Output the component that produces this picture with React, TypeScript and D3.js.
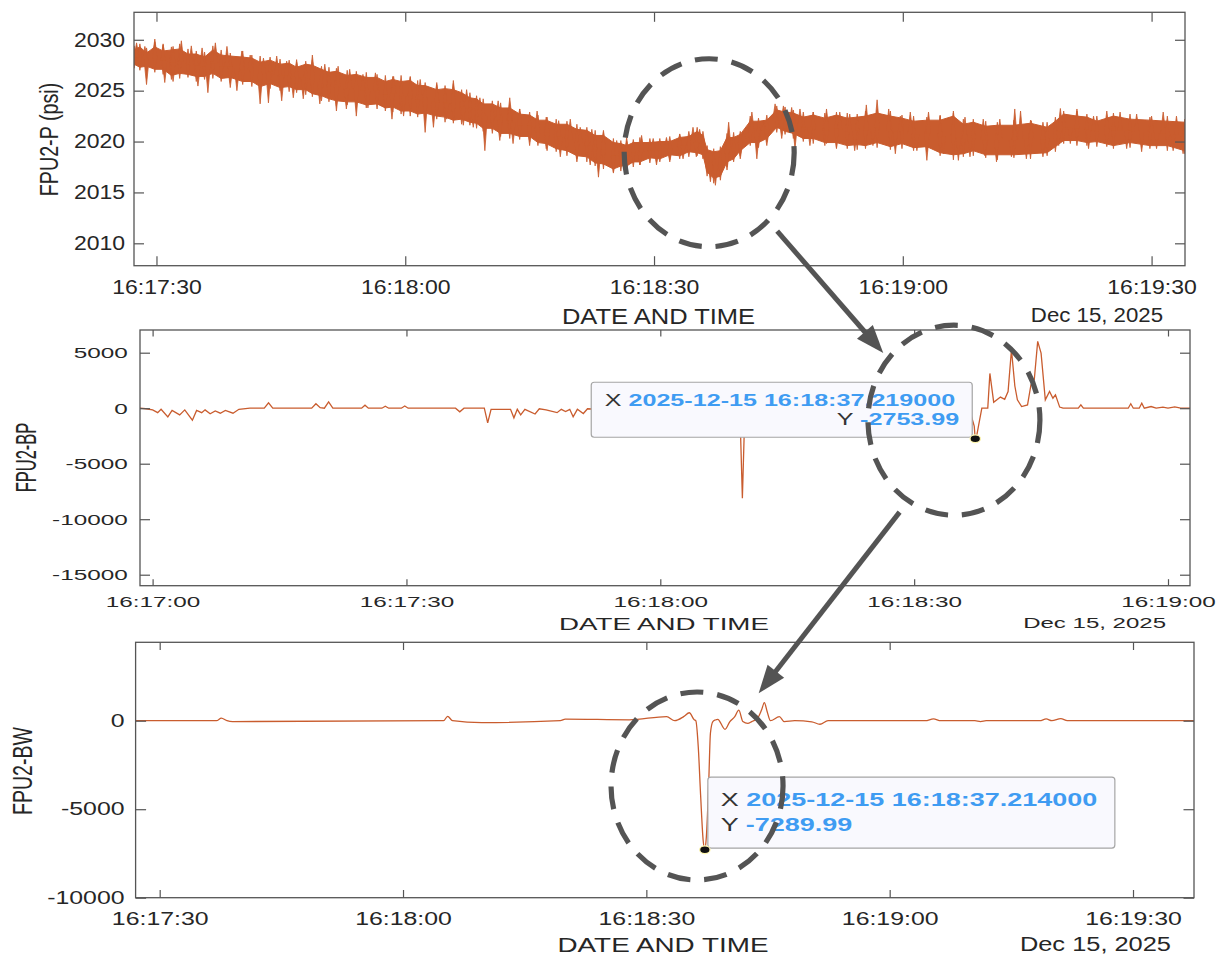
import React, { useEffect, useRef } from "react";
import * as d3 from "d3";

const W = 1224;
const H = 956;
const FONT = "'Liberation Sans', Arial, Helvetica, sans-serif";
const INK = "#262626";
const AXIS = "#555555";
const TRACE = "#c95c2e";
const TIP_BLUE = "#3f9cf2";
const MARK = "#545454";

// all times are seconds after 2025-12-15 16:17:00
const BASE = new Date(2025, 11, 15, 16, 17, 0).getTime();
const at = (s: number) => new Date(BASE + Math.round(s * 1000));

// FPU2-P (psi): upper / lower edge of the dense core of the noisy trace
const pSec = [27.3, 28.0, 28.8, 29.8, 30.8, 31.8, 32.8, 33.8, 34.8, 35.8, 36.8, 37.8, 38.9, 40.4, 41.5, 42.5, 43.7, 44.9, 46.0, 46.9,
  48.0, 48.8, 49.9, 50.8, 51.7, 53.0, 54.1, 55.3, 56.6, 57.6, 58.5, 59.5, 60.6, 61.5, 62.4, 63.8, 64.8, 65.8, 66.8, 67.8,
  68.6, 69.4, 70.5, 71.5, 72.6, 73.8, 75.0, 76.0, 77.0, 78.2, 79.5, 80.7, 81.9, 82.9, 83.9, 85.1, 86.0, 86.7, 87.5, 88.3,
  89.5, 90.7, 91.9, 93.1, 94.2, 95.2, 95.9, 96.4, 97.2, 98.0, 98.8, 99.6, 100.4, 101.6, 102.6, 103.6, 104.8, 105.8, 106.8, 108.0,
  109.2, 110.6, 112.0, 113.3, 114.5, 115.5, 116.9, 118.5, 119.9, 121.3, 122.9, 124.5, 126.1, 127.3, 128.5, 130.0, 131.4, 133.4, 135.4, 137.4,
  138.4, 139.4, 141.0, 142.2, 143.4, 145.4, 147.4, 149.8, 151.9, 154.0];
const pHi = [2029.0, 2029.3, 2028.7, 2029.3, 2028.9, 2029.0, 2029.1, 2028.6, 2028.6, 2028.3, 2029.0, 2028.5, 2028.4, 2028.3, 2028.2, 2027.8, 2028.0, 2027.6, 2027.7, 2027.3,
  2027.6, 2027.5, 2027.1, 2026.8, 2026.9, 2026.5, 2026.6, 2026.3, 2026.3, 2025.9, 2026.1, 2025.9, 2026.0, 2025.5, 2025.5, 2025.1, 2025.2, 2025.1, 2024.8, 2024.3,
  2024.2, 2023.7, 2023.7, 2023.3, 2023.3, 2022.7, 2022.6, 2022.1, 2022.1, 2021.7, 2021.7, 2021.2, 2021.1, 2020.6, 2020.6, 2019.9, 2019.8, 2019.6, 2019.9, 2019.9,
  2019.9, 2020.0, 2020.0, 2020.4, 2020.5, 2021.0, 2020.6, 2019.2, 2019.0, 2019.1, 2020.4, 2020.4, 2020.7, 2022.0, 2022.0, 2022.1, 2023.1, 2022.9, 2022.8, 2022.4,
  2022.6, 2022.3, 2022.6, 2022.3, 2022.4, 2022.5, 2022.8, 2022.5, 2022.3, 2022.0, 2022.1, 2022.1, 2022.5, 2021.7, 2021.9, 2021.5, 2021.6, 2021.6, 2021.8, 2021.4,
  2022.0, 2022.7, 2022.5, 2022.4, 2022.0, 2022.5, 2022.2, 2022.1, 2022.0, 2021.9];
const pLo = [2027.6, 2027.3, 2027.4, 2027.1, 2027.1, 2026.5, 2026.7, 2026.6, 2026.4, 2026.4, 2026.7, 2026.2, 2026.3, 2025.9, 2025.9, 2025.4, 2025.7, 2025.3, 2025.4, 2025.1,
  2025.1, 2024.7, 2024.5, 2024.2, 2024.0, 2023.9, 2023.9, 2023.6, 2023.7, 2023.3, 2023.4, 2023.0, 2023.0, 2022.7, 2022.8, 2022.5, 2022.4, 2022.1, 2022.2, 2021.9,
  2021.8, 2021.3, 2021.3, 2020.8, 2020.8, 2020.5, 2020.5, 2019.9, 2019.8, 2019.3, 2019.1, 2018.6, 2018.5, 2017.9, 2017.8, 2017.3, 2017.6, 2017.6, 2018.0, 2018.0,
  2018.4, 2018.3, 2018.7, 2018.6, 2019.0, 2018.9, 2018.7, 2017.0, 2016.4, 2016.6, 2018.0, 2018.3, 2019.1, 2019.9, 2019.9, 2020.3, 2021.4, 2021.0, 2020.8, 2020.3,
  2020.3, 2019.9, 2019.9, 2019.6, 2019.7, 2019.6, 2019.9, 2019.5, 2019.8, 2019.4, 2019.5, 2018.9, 2018.7, 2018.8, 2019.1, 2018.7, 2018.7, 2018.7, 2018.8, 2018.9,
  2019.5, 2020.1, 2020.1, 2019.9, 2020.0, 2019.6, 2019.9, 2019.6, 2019.6, 2019.1];
// typical reach of the fuzz around the core, at the same instants
const pFuzzHi = [2029.4, 2029.6, 2029.2, 2029.8, 2029.5, 2029.3, 2029.6, 2029.1, 2028.9, 2028.8, 2029.4, 2029.0, 2028.7, 2028.9, 2028.5, 2028.4, 2028.3, 2028.1, 2028.0, 2027.8,
  2027.9, 2028.0, 2027.4, 2027.3, 2027.2, 2027.0, 2026.9, 2026.8, 2026.6, 2026.5, 2026.4, 2026.5, 2026.3, 2026.0, 2025.8, 2025.6, 2025.5, 2025.7, 2025.1, 2024.8,
  2024.5, 2024.2, 2024.0, 2023.8, 2023.6, 2023.2, 2022.9, 2022.6, 2022.4, 2022.2, 2022.0, 2021.7, 2021.4, 2021.1, 2020.9, 2020.3, 2020.1, 2020.0, 2020.2, 2020.4,
  2020.3, 2020.3, 2020.5, 2020.7, 2021.0, 2021.4, 2021.0, 2019.6, 2019.3, 2019.5, 2020.8, 2020.9, 2021.0, 2022.5, 2022.3, 2022.6, 2023.5, 2023.4, 2023.1, 2022.9,
  2022.9, 2022.8, 2022.9, 2022.8, 2022.7, 2023.0, 2023.1, 2023.0, 2022.6, 2022.5, 2022.4, 2022.6, 2022.8, 2022.2, 2022.2, 2022.0, 2021.9, 2022.1, 2022.1, 2021.9,
  2022.4, 2023.0, 2023.0, 2022.7, 2022.5, 2022.8, 2022.7, 2022.4, 2022.5, 2022.2];
const pFuzzLo = [2027.2, 2027.0, 2026.9, 2026.8, 2026.6, 2026.1, 2026.2, 2026.3, 2025.9, 2026.1, 2026.2, 2025.9, 2025.8, 2025.6, 2025.4, 2025.1, 2025.2, 2025.0, 2024.9, 2024.8,
  2024.6, 2024.4, 2024.0, 2023.9, 2023.5, 2023.6, 2023.4, 2023.3, 2023.2, 2023.0, 2022.9, 2022.7, 2022.5, 2022.4, 2022.3, 2022.2, 2021.9, 2021.8, 2021.7, 2021.6,
  2021.3, 2021.0, 2020.8, 2020.5, 2020.3, 2020.2, 2020.0, 2019.6, 2019.3, 2019.0, 2018.6, 2018.3, 2018.0, 2017.6, 2017.3, 2017.0, 2017.1, 2017.3, 2017.5, 2017.7,
  2017.9, 2018.0, 2018.2, 2018.3, 2018.5, 2018.6, 2018.3, 2016.6, 2015.9, 2016.2, 2017.5, 2018.0, 2018.6, 2019.6, 2019.4, 2020.0, 2020.9, 2020.7, 2020.3, 2020.0,
  2019.8, 2019.6, 2019.4, 2019.3, 2019.2, 2019.3, 2019.4, 2019.2, 2019.3, 2019.1, 2019.0, 2018.6, 2018.2, 2018.5, 2018.6, 2018.4, 2018.2, 2018.4, 2018.3, 2018.6,
  2019.0, 2019.8, 2019.6, 2019.6, 2019.5, 2019.3, 2019.4, 2019.3, 2019.1, 2018.8];
// needle peaks above the core
const pUpSec = [27.6, 28.6, 29.8, 30.8, 32.0, 33.0, 34.2, 35.5, 37.1, 38.5, 40.3, 41.3, 42.9, 44.5, 45.7, 46.9, 48.8, 50.3, 51.9, 53.3,
  54.9, 56.4, 58.6, 60.6, 61.8, 63.8, 65.8, 67.4, 69.0, 71.2, 72.6, 73.8, 75.9, 77.1, 78.5, 79.9, 81.1, 82.5, 83.9, 85.5,
  86.7, 88.5, 89.9, 91.5, 93.1, 94.7, 95.5, 99.0, 100.8, 101.8, 103.2, 104.6, 105.6, 106.6, 107.6, 109.2, 110.8, 112.4, 113.6, 115.6,
  116.9, 118.3, 119.7, 120.9, 123.1, 124.5, 126.1, 127.5, 129.7, 131.7, 133.5, 134.2, 135.5, 136.9, 139.0, 141.0, 143.0, 144.6, 146.2, 148.2,
  150.0, 151.4, 153.0];
const pUpVal = [2029.7, 2029.35, 2030.07, 2029.6, 2029.35, 2029.9, 2029.4, 2029.2, 2029.7, 2029.35, 2028.9, 2028.5, 2028.2, 2028.4, 2027.9, 2028.05, 2028.5, 2027.6, 2027.4, 2027.1,
  2026.6, 2026.75, 2026.4, 2026.4, 2026.1, 2025.8, 2026.0, 2025.1, 2024.3, 2024.0, 2024.3, 2023.2, 2023.0, 2022.4, 2022.05, 2022.2, 2021.4, 2021.2, 2021.1, 2020.1,
  2020.4, 2020.6, 2020.3, 2020.4, 2020.75, 2021.4, 2021.2, 2021.9, 2020.9, 2022.9, 2022.05, 2023.7, 2023.5, 2023.35, 2023.2, 2022.9, 2023.2, 2022.9, 2022.7, 2023.6,
  2024.1, 2023.2, 2022.5, 2022.9, 2022.9, 2022.5, 2023.0, 2022.4, 2022.2, 2022.2, 2023.2, 2023.0, 2022.05, 2021.9, 2023.25, 2023.2, 2022.5, 2023.0, 2022.9, 2022.7,
  2022.5, 2022.9, 2022.5];
// needle dips below the core
const pDownSec = [28.8, 31.0, 32.0, 35.0, 36.2, 38.9, 39.7, 42.5, 43.5, 45.1, 46.5, 47.7, 49.7, 51.7, 52.9, 54.1, 55.5, 58.4, 59.8, 62.4,
  63.4, 65.0, 67.0, 68.2, 69.6, 71.4, 73.0, 75.0, 77.1, 78.7, 80.7, 82.3, 83.3, 85.1, 86.7, 88.3, 90.3, 91.9, 93.5, 95.1,
  96.8, 97.4, 98.8, 100.4, 102.4, 103.6, 105.4, 107.0, 108.8, 110.8, 112.0, 114.2, 116.4, 119.1, 121.7, 122.9, 124.9, 126.7, 128.1, 129.9,
  131.3, 133.1, 134.9, 136.9, 138.8, 140.2, 142.4, 144.6, 147.0, 148.8, 150.6, 152.6, 153.8];
const pDownVal = [2025.6, 2025.8, 2025.9, 2025.45, 2024.8, 2025.3, 2025.0, 2023.7, 2023.8, 2024.0, 2024.3, 2024.2, 2023.7, 2023.0, 2023.2, 2022.5, 2023.3, 2022.2, 2022.5, 2020.9,
  2021.4, 2022.2, 2021.6, 2021.4, 2019.1, 2020.1, 2019.8, 2019.6, 2019.1, 2018.5, 2018.0, 2017.7, 2016.5, 2016.9, 2017.0, 2017.7, 2017.7, 2018.0, 2018.3, 2018.5,
  2016.05, 2015.7, 2017.2, 2018.3, 2018.3, 2019.6, 2020.3, 2019.3, 2019.6, 2019.8, 2019.3, 2019.1, 2019.6, 2018.8, 2019.1, 2018.15, 2018.8, 2018.15, 2018.5, 2018.6,
  2018.0, 2018.5, 2018.3, 2018.5, 2019.6, 2019.8, 2019.3, 2019.5, 2019.3, 2019.0, 2019.3, 2019.1, 2018.8];

// FPU2-BP
const bpSec = [-1.5, -0.8, 0.0, 0.6, 1.0, 1.8, 2.3, 3.2, 3.8, 4.7, 5.2, 5.8, 6.2, 6.8, 7.4, 8.0, 8.6, 9.5, 10.2, 11.5,
  13.2, 13.7, 14.2, 18.8, 19.3, 19.8, 20.3, 20.8, 21.3, 24.7, 25.1, 25.5, 27.1, 27.5, 27.9, 29.4, 29.8, 30.2, 35.8, 36.3,
  36.8, 39.2, 39.6, 40.0, 42.3, 42.7, 43.1, 43.5, 44.0, 45.2, 45.7, 46.5, 47.8, 48.3, 48.8, 49.3, 49.7, 50.2, 50.9, 51.4,
  53.0, 56.0, 69.4, 69.7, 70.0, 96.5, 97.1, 97.219, 97.4, 97.7, 98.0, 98.7, 98.95, 99.4, 100.2, 100.7, 101.1, 101.5, 101.9, 102.2,
  102.7, 103.4, 103.8, 104.2, 104.6, 105.0, 105.5, 106.0, 106.4, 106.7, 107.2, 107.6, 109.4, 109.7, 110.0, 115.3, 115.6, 115.9, 116.6, 116.9,
  117.2, 118.0, 118.6, 119.4, 120.0, 120.8, 121.5, 122.6];
const bpVal = [0, -50, -150, -400, -100, -780, -200, -600, -150, -1080, -200, -400, -150, -500, -250, -450, -200, -450, -100, 0,
  0, 480, 0, 0, 400, 50, 0, 560, 0, 0, 270, 0, 0, 180, 0, 0, 200, 0, 0, -330,
  0, 0, -1320, -100, -100, -870, -100, -600, -100, -520, -50, -150, -400, -100, -300, -100, -780, -100, -480, -50,
  -100, 0, 0, -8120, 0, 0, -1620, -2753.99, -2440, -1200, 0, 0, 3130, 540, 1000, 800, 1500, 5260, 2000, 750,
  150, 300, 2100, 2600, 6020, 4960, 750, 1500, 900, 1200, 100, 0, 0, 300, 0, 0, 400, 0, 0, 450,
  0, 150, 0, 100, 0, 120, 0, 0];

// FPU2-BW
const bwSec = [27.0, 37.0, 37.6, 38.3, 39.0, 65.0, 65.5, 66.1, 69.7, 79.4, 80.0, 87.9, 92.5, 93.5, 94.6, 95.3, 95.9, 96.1, 96.4, 96.7,
  97.0, 97.214, 97.4, 97.7, 97.9, 98.2, 98.5, 98.8, 99.7, 100.3, 100.9, 101.4, 101.9, 102.5, 103.0, 103.7, 104.2, 104.55, 104.9, 105.3,
  106.4, 107.0, 108.3, 110.4, 111.4, 112.4, 124.4, 125.4, 126.3, 130.5, 131.2, 131.9, 138.5, 139.3, 140.0, 141.1, 141.9, 157.5];
const bwVal = [0, 0, 150, 0, -50, 0, 250, 0, -110, 0, 90, 50, 230, 0, 230, 450, 50, 0, -1470, -4300,
  -6740, -7289.99, -6550, -3350, -710, -50, 40, 80, -490, -50, 230, 600, -50, -150, -50, 130, 600, 1020, 510, 0,
  230, -50, 0, -60, -200, 0, 0, 100, 0, 0, -50, 0, 0, 100, 0, 120, 0, 0];

const pXTicks = [30, 60, 90, 120, 150];
const bpXTicks = [0, 30, 60, 90, 120];
const bwXTicks = [30, 60, 90, 120, 150];
const pYTicks = [2010, 2015, 2020, 2025, 2030];
const bpYTicks = [-15000, -10000, -5000, 0, 5000];
const bwYTicks = [-10000, -5000, 0];

const bpTip = { sec: 97.219, val: -2753.99 };
const bwTip = { sec: 97.214, val: -7289.99 };

type Panel = {
  id: string; left: number; right: number; top: number; bottom: number;
  xSec: [number, number]; yDom: [number, number];
  font: number; sx: number; tx: number; ty: number; xPad: number; yPad: number;
};

const P1: Panel = { id: "p", left: 134, right: 1185, top: 12.3, bottom: 265.7, xSec: [27.29, 154.03], yDom: [2007.8, 2032.7],
  font: 19.5, sx: 1.18, tx: 9.5, ty: 10, xPad: 14.5, yPad: 7.6 };
const P2: Panel = { id: "bp", left: 140, right: 1190, top: 330, bottom: 585.7, xSec: [-1.49, 122.6], yDom: [-15990, 7045],
  font: 15, sx: 1.62, tx: 6.5, ty: 10, xPad: 11, yPad: 7.6 };
const P3: Panel = { id: "bw", left: 135.6, right: 1194, top: 642.3, bottom: 897.7, xSec: [27.03, 157.52], yDom: [-10000, 4430],
  font: 17.5, sx: 1.42, tx: 7.7, ty: 10.5, xPad: 14.9, yPad: 7.8 };

function scalesFor(P: Panel) {
  const x = d3.scaleTime().domain([at(P.xSec[0]), at(P.xSec[1])]).range([P.left, P.right]);
  const y = d3.scaleLinear().domain(P.yDom).range([P.bottom, P.top]);
  return { x, y };
}

function stretchText(g: any, x: number, y: number, str: string, size: number, sx: number,
  o: { anchor?: string; weight?: string; fill?: string; rot?: number } = {}) {
  g.append("text")
    .attr("transform", `translate(${x},${y}) scale(${sx},1)${o.rot ? ` rotate(${o.rot})` : ""}`)
    .attr("text-anchor", o.anchor || "start")
    .attr("font-family", FONT)
    .attr("font-size", size)
    .attr("font-weight", o.weight || "normal")
    .attr("fill", o.fill || INK)
    .text(str);
}

function drawAxes(g: any, P: Panel, x: any, y: any, xt: number[], yt: number[]) {
  const fmt = d3.timeFormat("%H:%M:%S");
  const style = (sel: any) => {
    sel.attr("font-size", P.font).attr("font-family", FONT);
    sel.select(".domain").remove();
    sel.selectAll(".tick line").attr("stroke", AXIS).attr("stroke-width", 1.2);
    sel.selectAll(".tick text").attr("fill", INK).attr("transform", `scale(${P.sx},1)`);
  };
  const dates = xt.map(at);
  g.append("g").attr("transform", `translate(0,${P.bottom})`)
    .call(d3.axisBottom(x).tickValues(dates).tickFormat((d: any) => fmt(d)).tickSize(-P.tx).tickSizeOuter(0).tickPadding(P.xPad))
    .call(style);
  g.append("g").attr("transform", `translate(0,${P.top})`)
    .call(d3.axisTop(x).tickValues(dates).tickFormat(() => "").tickSize(-P.tx).tickSizeOuter(0))
    .call(style);
  g.append("g").attr("transform", `translate(${P.left},0)`)
    .call(d3.axisLeft(y).tickValues(yt).tickFormat((d: any) => String(d)).tickSize(-P.ty).tickSizeOuter(0).tickPadding(P.yPad))
    .call(style);
  g.append("g").attr("transform", `translate(${P.right},0)`)
    .call(d3.axisRight(y).tickValues(yt).tickFormat(() => "").tickSize(-P.ty).tickSizeOuter(0))
    .call(style);
  g.append("rect")
    .attr("x", P.left).attr("y", P.top)
    .attr("width", P.right - P.left).attr("height", P.bottom - P.top)
    .attr("fill", "none").attr("stroke", AXIS).attr("stroke-width", 1.3);
}

function clipFor(svg: any, P: Panel) {
  svg.select("defs").append("clipPath").attr("id", `clip-${P.id}`)
    .append("rect").attr("x", P.left).attr("y", P.top)
    .attr("width", P.right - P.left).attr("height", P.bottom - P.top);
  return svg.append("g").attr("clip-path", `url(#clip-${P.id})`);
}

function dataTip(g: any, px: number, py: number, box: { x0: number; y0: number; x1: number; y1: number },
  lines: { x: number; y: number; anchor: string; key: string; value: string }[], size: number, sx: number) {
  g.append("rect")
    .attr("x", box.x0).attr("y", box.y0).attr("width", box.x1 - box.x0).attr("height", box.y1 - box.y0)
    .attr("rx", 3).attr("fill", "#f9f9fe").attr("stroke", "#a5a5a5").attr("stroke-width", 1.2);
  lines.forEach((l) => {
    const t = g.append("text")
      .attr("transform", `translate(${l.x},${l.y}) scale(${sx},1)`)
      .attr("text-anchor", l.anchor).attr("font-family", FONT).attr("font-size", size);
    t.append("tspan").attr("fill", "#333").text(l.key + " ");
    t.append("tspan").attr("fill", TIP_BLUE).attr("font-weight", "bold").text(l.value);
  });
  g.append("ellipse").attr("cx", px).attr("cy", py).attr("rx", 5.2).attr("ry", 3.8)
    .attr("fill", "#111").attr("stroke", "#fff7b0").attr("stroke-width", 1.2);
}

function arrow(g: any, x1: number, y1: number, x2: number, y2: number) {
  const dx = x2 - x1, dy = y2 - y1, L = Math.hypot(dx, dy);
  const ux = dx / L, uy = dy / L, hl = 28, hw = 10.5;
  const bx = x2 - ux * hl, by = y2 - uy * hl;
  g.append("line").attr("x1", x1).attr("y1", y1).attr("x2", bx + ux * 3).attr("y2", by + uy * 3)
    .attr("stroke", MARK).attr("stroke-width", 5);
  g.append("path")
    .attr("d", `M${x2},${y2}L${bx - uy * hw},${by + ux * hw}L${bx + uy * hw},${by - ux * hw}Z`)
    .attr("fill", MARK);
}

export default function App() {
  const ref = useRef<SVGSVGElement>(null);

  useEffect(() => {
    document.body.style.margin = "0";
    if (!ref.current) return;
    const svg = d3.select(ref.current);
    svg.selectAll("*").remove();
    svg.append("defs");
    svg.append("rect").attr("width", W).attr("height", H).attr("fill", "#fff");

    const s1 = scalesFor(P1), s2 = scalesFor(P2), s3 = scalesFor(P3);
    const tipFmt = d3.timeFormat("%Y-%m-%d %H:%M:%S.%L");

    // panel 1: dense core + fuzz + needles
    const g1 = clipFor(svg, P1);
    const idx = d3.range(pSec.length);
    g1.append("path")
      .attr("d", d3.area<number>().x((i) => s1.x(at(pSec[i]))).y0((i) => s1.y(pLo[i])).y1((i) => s1.y(pHi[i]))(idx))
      .attr("fill", TRACE).attr("stroke", TRACE).attr("stroke-width", 1);
    const mid = (s: number) => {
      const j = Math.max(1, Math.min(pSec.length - 1, d3.bisectLeft(pSec, s)));
      const f = (s - pSec[j - 1]) / (pSec[j] - pSec[j - 1]);
      return ((pHi[j - 1] + pLo[j - 1]) * (1 - f) + (pHi[j] + pLo[j]) * f) / 2;
    };
    const needle = d3.line<[number, number]>().x((d) => s1.x(at(d[0]))).y((d) => s1.y(d[1]));
    const drawNeedles = (secs: number[], vals: number[], half: number) =>
      secs.forEach((s, i) => {
        const m = mid(s);
        g1.append("path")
          .attr("d", needle([[s - half, m], [s, vals[i]], [s + half, m]]))
          .attr("fill", TRACE).attr("stroke", TRACE).attr("stroke-width", 0.8).attr("stroke-linejoin", "round");
      });
    drawNeedles(pSec, pFuzzHi, 0.25);
    drawNeedles(pSec, pFuzzLo, 0.25);
    drawNeedles(pUpSec, pUpVal, 0.3);
    drawNeedles(pDownSec, pDownVal, 0.3);

    // panel 2
    const g2 = clipFor(svg, P2);
    g2.append("path")
      .attr("d", d3.line<number>().x((i) => s2.x(at(bpSec[i]))).y((i) => s2.y(bpVal[i]))(d3.range(bpSec.length)))
      .attr("fill", "none").attr("stroke", TRACE).attr("stroke-width", 1.3);

    // panel 3
    const g3 = clipFor(svg, P3);
    g3.append("path")
      .attr("d", d3.line<number>().curve(d3.curveMonotoneX).x((i) => s3.x(at(bwSec[i]))).y((i) => s3.y(bwVal[i]))(d3.range(bwSec.length)))
      .attr("fill", "none").attr("stroke", TRACE).attr("stroke-width", 1.3);

    const ax = svg.append("g");
    drawAxes(ax, P1, s1.x, s1.y, pXTicks, pYTicks);
    drawAxes(ax, P2, s2.x, s2.y, bpXTicks, bpYTicks);
    drawAxes(ax, P3, s3.x, s3.y, bwXTicks, bwYTicks);

    // axis labels
    stretchText(ax, 57.8, 139.5, "FPU2-P (psi)", 19.7, 1.28, { anchor: "middle", rot: -90 });
    stretchText(ax, 658.5, 324, "DATE AND TIME", 22, 1.16, { anchor: "middle" });
    stretchText(ax, 1163, 322, "Dec 15, 2025", 19.5, 1.14, { anchor: "end" });
    stretchText(ax, 36.4, 457.5, "FPU2-BP", 16.5, 1.75, { anchor: "middle", rot: -90 });
    stretchText(ax, 664, 630, "DATE AND TIME", 16.3, 1.7, { anchor: "middle" });
    stretchText(ax, 1166, 628.3, "Dec 15, 2025", 15.5, 1.55, { anchor: "end" });
    stretchText(ax, 31.6, 771, "FPU2-BW", 19.5, 1.39, { anchor: "middle", rot: -90 });
    stretchText(ax, 663, 951.7, "DATE AND TIME", 20.8, 1.34, { anchor: "middle" });
    stretchText(ax, 1171, 950.7, "Dec 15, 2025", 20, 1.27, { anchor: "end" });

    // data tips
    const t2x = s2.x(at(bpTip.sec)), t2y = s2.y(bpTip.val);
    const b2 = { x0: t2x - 384, y0: t2y - 56.5, x1: t2x - 3, y1: t2y - 1.5 };
    dataTip(ax, t2x, t2y, b2, [
      { x: b2.x0 + 13.5, y: b2.y0 + 24, anchor: "start", key: "X", value: tipFmt(at(bpTip.sec)) + "000" },
      { x: b2.x1 - 13, y: b2.y0 + 43, anchor: "end", key: "Y", value: bpTip.val.toFixed(2) },
    ], 15.7, 1.6);
    const t3x = s3.x(at(bwTip.sec)), t3y = s3.y(bwTip.val);
    const b3 = { x0: t3x + 3, y0: t3y - 72.7, x1: t3x + 410, y1: t3y - 1.7 };
    dataTip(ax, t3x, t3y, b3, [
      { x: b3.x0 + 13, y: b3.y0 + 29.4, anchor: "start", key: "X", value: tipFmt(at(bwTip.sec)) + "000" },
      { x: b3.x0 + 13, y: b3.y0 + 54.4, anchor: "start", key: "Y", value: bwTip.val.toFixed(2) },
    ], 19, 1.42);

    // zoom annotations
    const ann = svg.append("g");
    const ring = (cx: number, cy: number, rx: number, ry: number) =>
      ann.append("ellipse").attr("cx", cx).attr("cy", cy).attr("rx", rx).attr("ry", ry)
        .attr("fill", "none").attr("stroke", MARK).attr("stroke-width", 5.2).attr("stroke-dasharray", "23 14");
    ring(s1.x(at(96.65)), s1.y(2018.9), 85, 94);
    ring(s2.x(at(94.7)), s2.y(-1083), 86, 95);
    ring(s3.x(at(96.25)), s3.y(-3690), 86, 94);
    arrow(ann, s1.x(at(104.85)), s1.y(2011.2), s2.x(at(86.35)), s2.y(4964));
    arrow(ann, s2.x(at(88.28)), s2.y(-9360), s3.x(at(103.85)), s3.y(1548));
  }, []);

  return <svg ref={ref} width={W} height={H} style={{ display: "block" }} />;
}
